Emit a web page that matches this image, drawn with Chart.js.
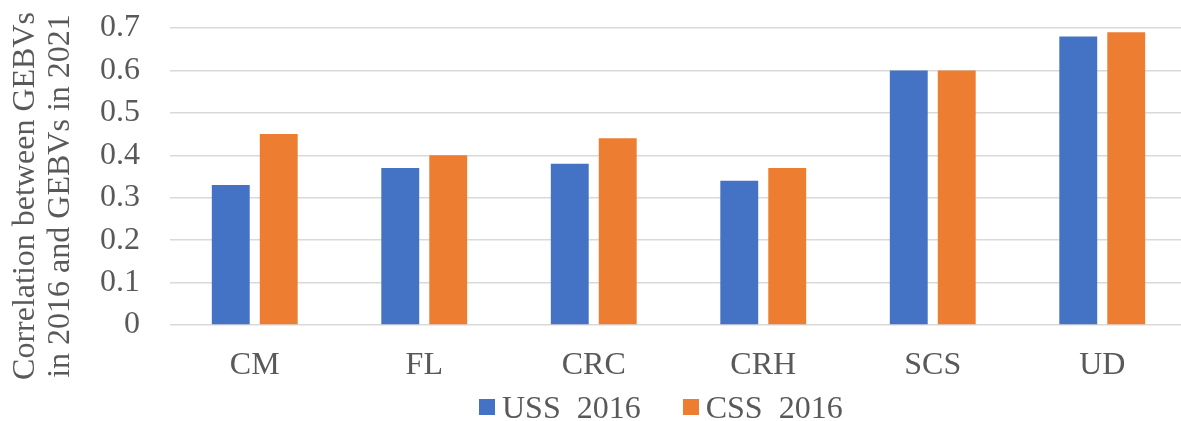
<!DOCTYPE html>
<html>
<head>
<meta charset="utf-8">
<script src="https://cdn.jsdelivr.net/npm/chart.js@4"></script>
<style>
  html, body { margin: 0; padding: 0; background: #fff; overflow: hidden; }
  #wrap { position: relative; width: 1190px; height: 421px; }
  #legend {
    position: absolute; left: 479px; top: 391px;
    display: flex; align-items: center;
    font: 32px/32px 'Liberation Serif', 'Times New Roman', serif; color: #595959;
  }
  #legend .item { display: flex; align-items: center; margin-right: 42px; white-space: pre; }
  #legend .box { width: 16px; height: 16px; margin-right: 7px; }
</style>
</head>
<body>
<div id="wrap">
  <canvas id="chart" width="1190" height="421"></canvas>
  <div id="legend"></div>
</div>
<script>
(function () {
    "use strict";

    const traits = ["CM", "FL", "CRC", "CRH", "SCS", "UD"];
    const uss2016 = [0.33, 0.37, 0.38, 0.34, 0.60, 0.68];
    const css2016 = [0.45, 0.40, 0.44, 0.37, 0.60, 0.69];
    const yTitle = ["Correlation between GEBVs", "in 2016 and GEBVs in 2021"];

    const FONT = "'Liberation Serif', 'Times New Roman', serif";
    const TEXT = "#595959";
    const GRID = "#d9d9d9";

    // y title drawn by hand: it is taller than the plot, so the built-in one gets squeezed
    const sideTitle = {
        id: "sideTitle",
        afterDraw(chart) {
            const c = chart.ctx;
            c.save();
            c.fillStyle = TEXT;
            c.font = "32px " + FONT;
            c.textAlign = "center";
            c.textBaseline = "middle";
            c.translate(0, 196);
            c.rotate(-Math.PI / 2);
            c.fillText(yTitle[0], 0, 26);
            c.fillText(yTitle[1], 0, 61);
            c.restore();
        },
    };

    const ctx = document.getElementById("chart");
    const chart = new Chart(ctx, {
        type: "bar",
        data: {
            labels: traits,
            datasets: [
                { label: "USS  2016", data: uss2016, backgroundColor: "#4472c4" },
                { label: "CSS  2016", data: css2016, backgroundColor: "#ed7d31" },
            ],
        },
        plugins: [sideTitle],
        options: {
            responsive: false,
            animation: false,
            categoryPercentage: 0.566,
            barPercentage: 0.79,
            layout: { padding: { left: 70, right: 3, top: 28, bottom: 14 } },
            plugins: {
                tooltip: { enabled: false },
                legend: { display: false },
            },
            scales: {
                x: {
                    grid: { display: false, drawTicks: false },
                    border: { display: false },
                    ticks: {
                        color: TEXT,
                        font: { family: FONT, size: 32, lineHeight: 1 },
                        padding: 25,
                    },
                },
                y: {
                    min: 0,
                    max: 0.7,
                    ticks: {
                        stepSize: 0.1,
                        autoSkip: false,
                        color: TEXT,
                        font: { family: FONT, size: 32, lineHeight: 1 },
                        padding: 30,
                        callback: v => (Math.round(v * 10) / 10).toString(),
                    },
                    grid: { color: GRID, lineWidth: 1.4, drawTicks: false },
                    border: { display: false },
                    // let layout.padding alone set the plot top
                    afterFit(scale) { scale.paddingTop = 0; scale.paddingBottom = 0; },
                },
            },
        },
    });

    // html legend, built from the datasets
    const legend = document.getElementById("legend");
    for (const ds of chart.data.datasets) {
        const item = document.createElement("span");
        item.className = "item";
        const box = document.createElement("span");
        box.className = "box";
        box.style.background = ds.backgroundColor;
        item.appendChild(box);
        item.appendChild(document.createTextNode(ds.label));
        legend.appendChild(item);
    }
})();
</script>
</body>
</html>
